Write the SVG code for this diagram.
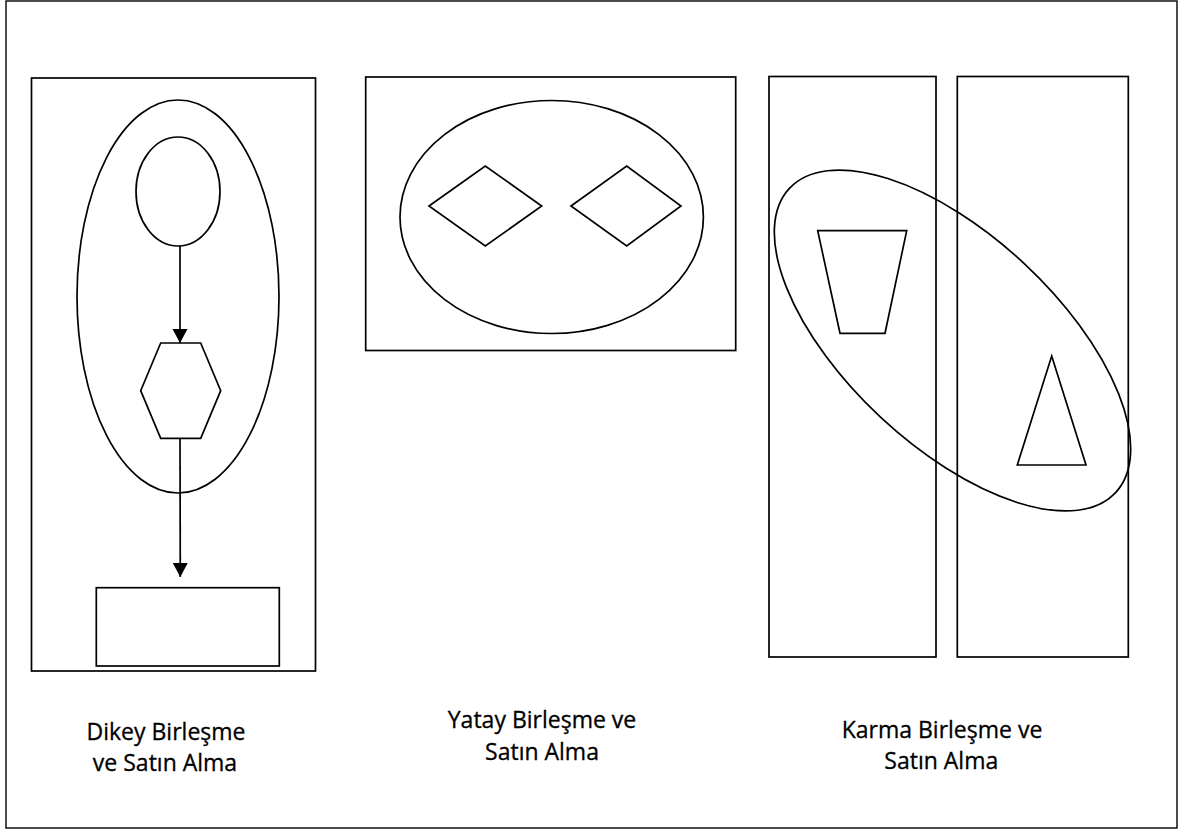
<svg xmlns="http://www.w3.org/2000/svg" width="1188" height="832" viewBox="0 0 1188 832">
  <style>
    .s { fill: none; stroke: #000; stroke-width: 1.7; }
    .frame { fill: none; stroke: #000; stroke-width: 1.4; }
    .lbl { font-family: "Open Sans", "Liberation Sans", sans-serif; font-size: 23px; fill: #000; stroke: #000; stroke-width: 0.3; text-anchor: middle; }
    .c { fill: none; stroke: #000; stroke-width: 1.7; }
  </style>
  <defs>
    <marker id="arr" markerUnits="userSpaceOnUse" markerWidth="16" markerHeight="16" refX="14" refY="7.5" orient="auto">
      <path d="M0,0 L14,7.5 L0,15 Z" fill="#000"/>
    </marker>
  </defs>
  <rect x="0" y="0" width="1188" height="832" fill="#fff"/>
  <rect id="outer-frame" class="frame" x="6" y="1" width="1171" height="827"/>

  <!-- Dikey panel -->
  <g id="dikey-panel">
    <rect class="s" x="31.5" y="78" width="284" height="593"/>
    <ellipse class="s" cx="178" cy="296.5" rx="101" ry="196.5"/>
  </g>
  <g id="dikey-circle">
    <ellipse class="s" cx="178" cy="191.5" rx="42" ry="54.5"/>
  </g>
  <g id="dikey-hexagon">
    <polygon class="s" points="160.7,343 200.7,343 220.7,390.7 200.7,438.3 160.7,438.3 140.7,390.7"/>
  </g>
  <g id="dikey-rect">
    <rect class="s" x="96.3" y="587.7" width="183" height="78.3"/>
  </g>
  <g id="connectors">
    <line class="c" x1="180" y1="246" x2="180" y2="343" marker-end="url(#arr)"/>
    <line class="c" x1="180" y1="438.3" x2="180.3" y2="577" marker-end="url(#arr)"/>
  </g>

  <!-- Yatay panel -->
  <g id="yatay-panel">
    <rect class="s" x="365.7" y="77" width="370" height="273.5"/>
    <ellipse class="s" cx="551.7" cy="217" rx="151.7" ry="116.5"/>
  </g>
  <g id="yatay-diamond-1">
    <polygon class="s" points="429,206 485.3,166 541.7,206 485.3,246"/>
  </g>
  <g id="yatay-diamond-2">
    <polygon class="s" points="571,206 626.7,166 681,206 626.7,246"/>
  </g>

  <!-- Karma panel -->
  <g id="karma-panel-1">
    <rect class="s" x="769" y="76.5" width="167" height="580.5"/>
  </g>
  <g id="karma-panel-2">
    <rect class="s" x="957.3" y="76.5" width="171" height="580.5"/>
  </g>
  <g id="karma-ellipse">
    <ellipse class="s" cx="952.5" cy="340.5" rx="223" ry="105.2" transform="rotate(43 952.5 340.5)"/>
  </g>
  <g id="karma-trapezoid">
    <polygon class="s" points="817.7,230.7 906.7,230.7 885,333.3 840,333.3"/>
  </g>
  <g id="karma-triangle">
    <polygon class="s" points="1051.7,356 1086,465 1017.3,465"/>
  </g>

  <!-- Labels -->
  <g id="label-dikey">
    <text class="lbl" x="166" y="739.5">Dikey Birleşme</text>
    <text class="lbl" x="165" y="771">ve Satın Alma</text>
  </g>
  <g id="label-yatay">
    <text class="lbl" x="542" y="727.5">Yatay Birleşme ve</text>
    <text class="lbl" x="542" y="760">Satın Alma</text>
  </g>
  <g id="label-karma">
    <text class="lbl" x="942" y="737.5">Karma Birleşme ve</text>
    <text class="lbl" x="941.3" y="769">Satın Alma</text>
  </g>
</svg>
